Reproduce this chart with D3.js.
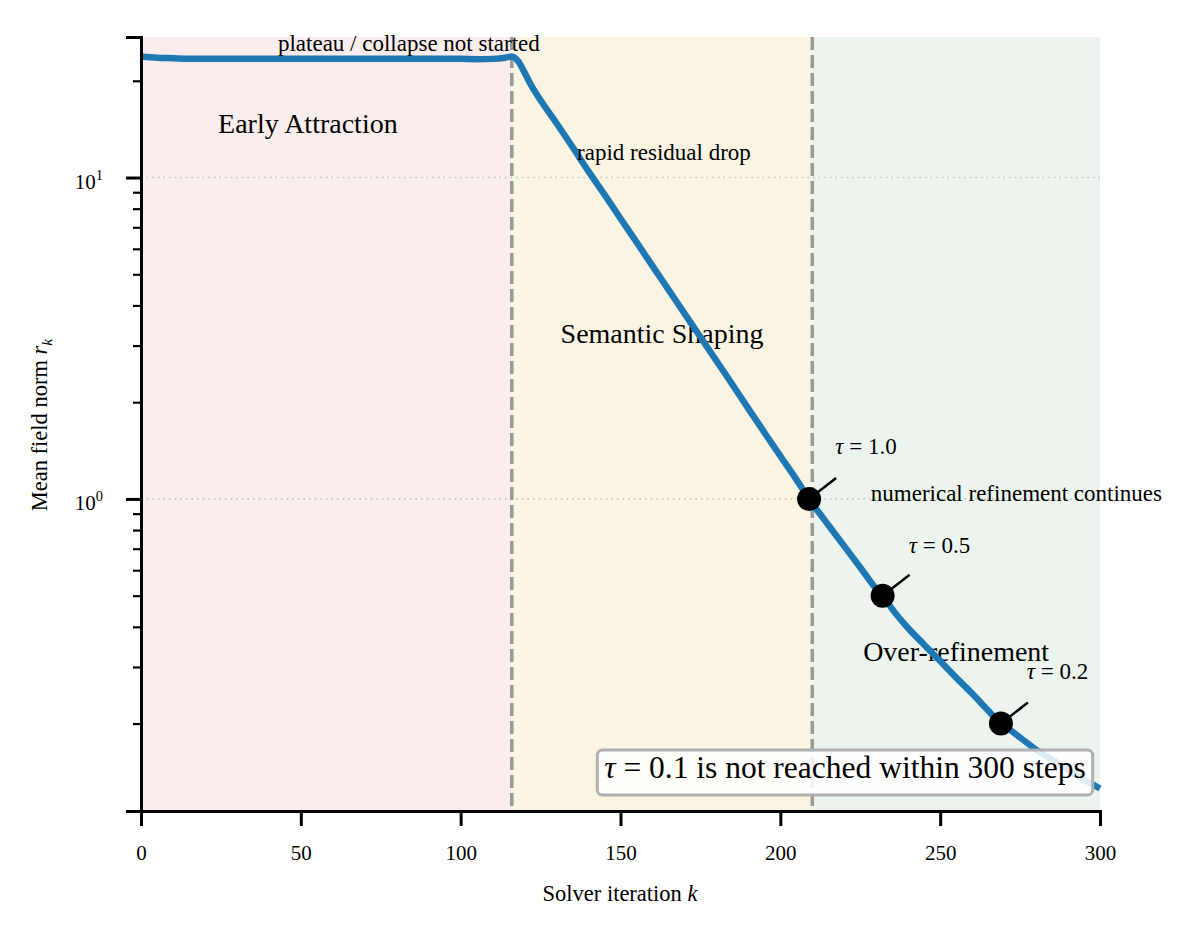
<!DOCTYPE html>
<html><head><meta charset="utf-8">
<script src="https://cdn.jsdelivr.net/npm/d3@7/dist/d3.min.js"></script>
<style>body{margin:0;background:#fff}svg{font-family:"Liberation Serif","DejaVu Serif",serif}</style>
</head><body><svg id="c" width="1200" height="937"></svg>
<script>
const iterK = [0,5,10,15,20,30,40,50,60,70,80,90,100,105,110,114,116,118,120,122,125,130,135,140,145,150,155,160,165,170,175,180,185,190,195,200,205,209,210,215,220,225,230,232,235,240,245,250,255,260,265,269,270,275,280,285,290,295,300];
const meanNorm = [23.8,23.6,23.5,23.4,23.4,23.4,23.4,23.4,23.4,23.4,23.4,23.4,23.4,23.35,23.4,23.6,23.8,23.0,21.2,19.4,17.4,14.75,12.44,10.45,8.85,7.46,6.30,5.31,4.48,3.78,3.19,2.69,2.27,1.91,1.61,1.36,1.15,1.0,0.968,0.83,0.713,0.612,0.525,0.5,0.454,0.396,0.352,0.313,0.278,0.248,0.2196,0.2,0.197,0.181,0.166,0.1547,0.144,0.134,0.1257];
const phaseNames = ["Early Attraction","Semantic Shaping","Over-refinement"];
const phaseStart = [0,116,210];
const phaseEnd = [116,210,300];
const phaseColors = ["#f9eded","#faf5e3","#edf4ee"];
const phaseLabelK = [52.2,163,255];
const phaseLabelR = [13.8,3.05,0.314];
const boundaryK = [116,210];
const tauLabels = ["1.0","0.5","0.2"];
const tauK = [209,232,269];
const tauR = [1.0,0.5,0.2];
const tauLabelPos = [[217.2,1.38],[240.2,0.68],[277.1,0.276]];
const xTicks = [0,50,100,150,200,250,300];
const yMajor = [1,10];
const yMinor = [0.2,0.3,0.4,0.5,0.6,0.7,0.8,0.9,2,3,4,5,6,7,8,9,20];

const svg = d3.select("#c");
const L=141,R=1100,T=37,B=811;
const x = d3.scaleLinear().domain([0,300]).range([L,R]);
const y = d3.scaleLog().domain([0.1069,27.37]).range([B,T]);

svg.selectAll("rect.ph").data(phaseNames).enter().append("rect")
  .attr("x",(d,i)=>x(phaseStart[i])).attr("width",(d,i)=>x(phaseEnd[i])-x(phaseStart[i]))
  .attr("y",T).attr("height",B-T).attr("fill",(d,i)=>phaseColors[i]);
svg.selectAll("line.g").data(yMajor).enter().append("line")
  .attr("x1",L).attr("x2",R).attr("y1",d=>y(d)).attr("y2",d=>y(d))
  .attr("stroke","#c4c4c4").attr("stroke-width",1.6).attr("stroke-dasharray","1.6,4");
svg.selectAll("line.b").data(boundaryK).enter().append("line")
  .attr("x1",d=>x(d)).attr("x2",d=>x(d)).attr("y1",T).attr("y2",B)
  .attr("stroke","#999").attr("stroke-width",3.5).attr("stroke-dasharray","13,5");
svg.selectAll("text.pl").data(phaseNames).enter().append("text")
  .attr("x",(d,i)=>x(phaseLabelK[i])).attr("y",(d,i)=>y(phaseLabelR[i]))
  .attr("text-anchor","middle").attr("font-size",28).text(d=>d);
const line = d3.line().x(d=>x(d[0])).y(d=>y(d[1])).curve(d3.curveMonotoneX);
svg.append("path").datum(iterK.map((k,i)=>[k,meanNorm[i]]))
  .attr("d",line).attr("fill","none").attr("stroke","#1f77b4").attr("stroke-width",6.5)
  .attr("stroke-linejoin","round");
svg.append("text").attr("x",x(83.8)).attr("y",y(24.8)).attr("text-anchor","middle").attr("font-size",23).text("plateau / collapse not started");
svg.append("text").attr("x",x(163.6)).attr("y",y(11.37)).attr("text-anchor","middle").attr("font-size",23).text("rapid residual drop");
svg.append("text").attr("x",x(228.3)).attr("y",y(0.9858)).attr("font-size",23).text("numerical refinement continues");
tauK.forEach((k,i)=>{
  const cx=x(k), cy=y(tauR[i]);
  svg.append("line").attr("x1",cx).attr("y1",cy).attr("x2",cx+27).attr("y2",cy-21).attr("stroke","#000").attr("stroke-width",2.5);
  svg.append("circle").attr("cx",cx).attr("cy",cy).attr("r",12).attr("fill","#000");
  const t=svg.append("text").attr("x",x(tauLabelPos[i][0])).attr("y",y(tauLabelPos[i][1])).attr("font-size",23);
  t.append("tspan").attr("font-style","italic").text("τ");
  t.append("tspan").text(" = "+tauLabels[i]);
});
const bx = svg.append("g");
const bt = bx.append("text").attr("x",845).attr("y",778).attr("text-anchor","middle").attr("font-size",31.5);
bt.append("tspan").attr("font-style","italic").text("τ");
bt.append("tspan").text(" = 0.1 is not reached within 300 steps");
const bb = bt.node().getBBox();
bx.insert("rect","text").attr("x",bb.x-7).attr("y",750).attr("width",bb.width+14).attr("height",45)
  .attr("rx",5).attr("fill","rgba(255,255,255,0.85)").attr("stroke","#b0b0b0").attr("stroke-width",3);

const xa = svg.append("g").attr("transform",`translate(0,${B})`)
  .call(d3.axisBottom(x).tickValues(xTicks).tickSize(15).tickPadding(19).tickFormat(d3.format("d")));
xa.select(".domain").attr("stroke-width",3);
xa.selectAll(".tick line").attr("stroke-width",3);
xa.selectAll("text").attr("font-size",21).attr("font-family","Liberation Serif");
const ya = svg.append("g").attr("transform",`translate(${L},0)`)
  .call(d3.axisLeft(y).tickValues(yMajor).tickSize(15).tickPadding(38).tickFormat(()=>""));
ya.select(".domain").attr("stroke-width",3);
ya.selectAll(".tick line").attr("stroke-width",3);
ya.selectAll(".tick").each(function(d){
  const t=d3.select(this).select("text").attr("font-size",21).attr("font-family","Liberation Serif").attr("dy","0.52em").attr("x",-38);
  t.append("tspan").text("10");
  t.append("tspan").attr("dy","-0.62em").attr("font-size",14.5).text(Math.round(Math.log10(d)));
});
const ym = svg.append("g").attr("transform",`translate(${L},0)`)
  .call(d3.axisLeft(y).tickValues(yMinor).tickSize(8).tickFormat(()=>""));
ym.select(".domain").remove();
ym.selectAll(".tick line").attr("stroke-width",2.2);
svg.append("text").attr("x",620).attr("y",901).attr("text-anchor","middle").attr("font-size",22.5)
  .html('Solver iteration <tspan font-style="italic">k</tspan>');
svg.append("text").attr("transform","translate(47,425) rotate(-90)").attr("text-anchor","middle").attr("font-size",22.5)
  .html('Mean field norm <tspan font-style="italic">r</tspan><tspan font-style="italic" font-size="15.5" dy="5">k</tspan>');
</script></body></html>
